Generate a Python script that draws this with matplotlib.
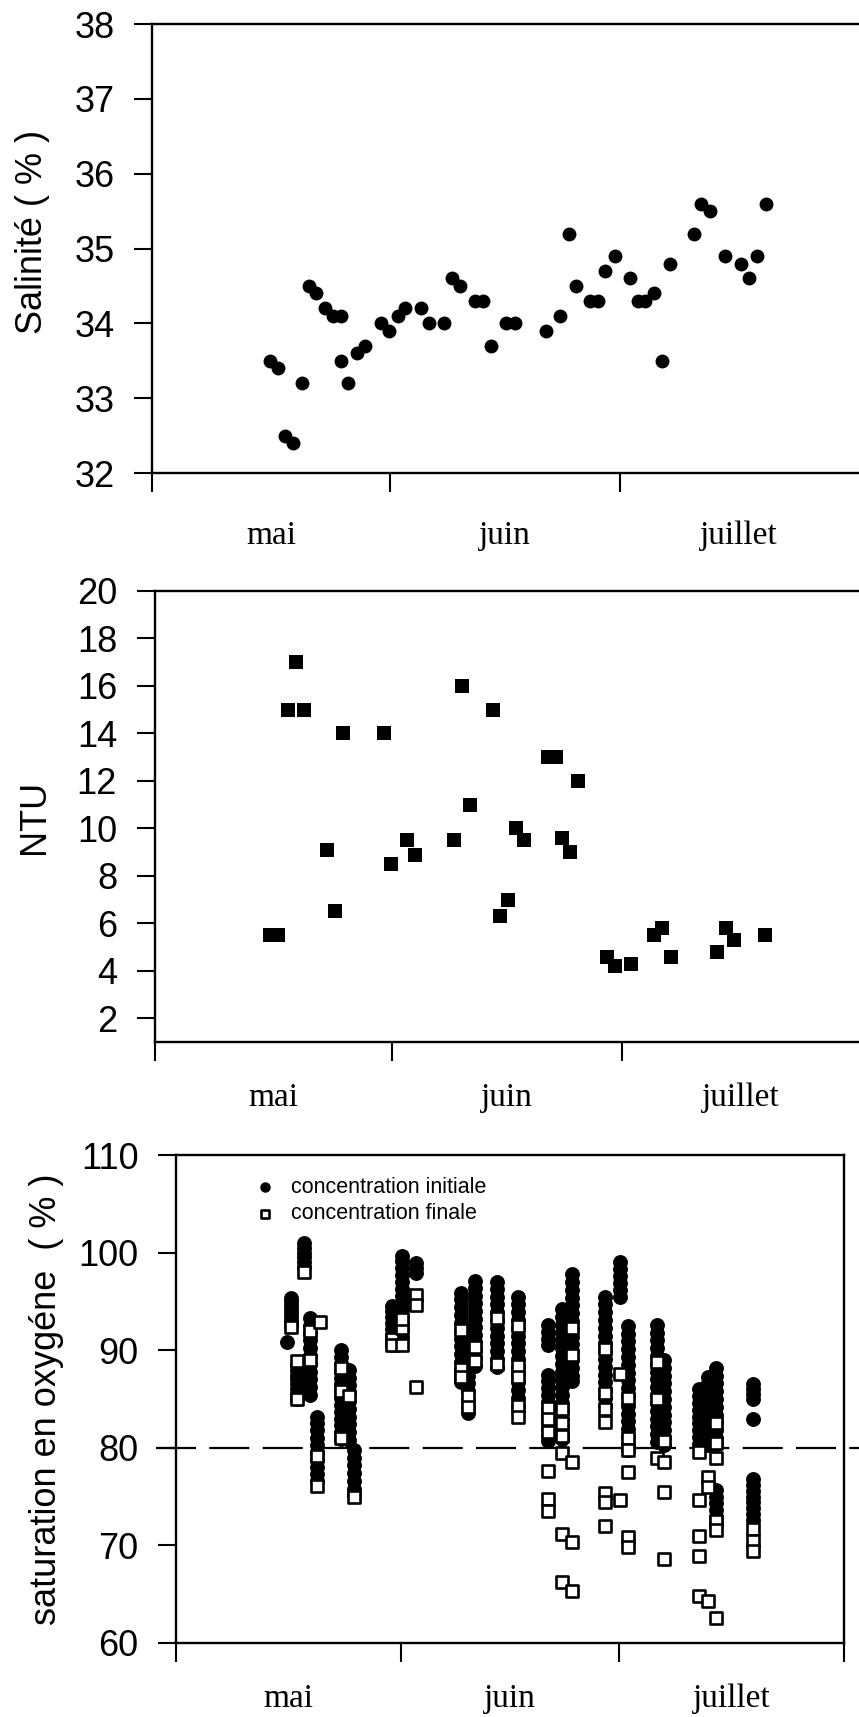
import matplotlib
matplotlib.use("Agg")
import matplotlib.pyplot as plt

plt.rcParams['font.family'] = ['Liberation Sans', 'DejaVu Sans']

# days counted from 1 May
month_ticks = [0, 31, 61, 92]
month_mids = [15.5, 46, 76.5]
month_names = ["mai", "juin", "juillet"]

# salinity
sal_days = [15.4, 16.4, 17.3, 18.4, 19.5, 20.5, 21.4, 22.6, 23.6, 24.6,
            24.6, 25.6, 26.7, 27.7, 29.9, 30.9, 32.1, 33.0, 35.0, 36.1,
            38.1, 39.1, 40.1, 42.1, 43.1, 44.2, 46.2, 47.3, 51.3, 53.2,
            54.4, 55.2, 57.1, 58.1, 59.1, 60.3, 62.3, 63.3, 64.3, 65.4,
            66.4, 67.5, 70.6, 71.6, 72.7, 74.7, 76.7, 77.8, 78.8, 80.0]
sal_vals = [33.5, 33.4, 32.5, 32.4, 33.2, 34.5, 34.4, 34.2, 34.1, 34.1,
            33.5, 33.2, 33.6, 33.7, 34.0, 33.9, 34.1, 34.2, 34.2, 34.0,
            34.0, 34.6, 34.5, 34.3, 34.3, 33.7, 34.0, 34.0, 33.9, 34.1,
            35.2, 34.5, 34.3, 34.3, 34.7, 34.9, 34.6, 34.3, 34.3, 34.4,
            33.5, 34.8, 35.2, 35.6, 35.5, 34.9, 34.8, 34.6, 34.9, 35.6]

# turbidity
ntu_days = [15.0, 16.1, 17.4, 18.4, 19.5, 22.5, 23.5, 24.6, 29.9, 30.9,
            32.9, 34.0, 39.0, 40.1, 41.2, 44.2, 45.1, 46.1, 47.2, 48.2,
            51.3, 52.3, 53.2, 54.2, 55.2, 59.0, 60.0, 62.1, 65.1, 66.2,
            67.3, 73.4, 74.5, 75.5, 79.6]
ntu_vals = [5.5, 5.5, 15, 17, 15, 9.1, 6.5, 14, 14, 8.5,
            9.5, 8.9, 9.5, 16, 11, 15, 6.3, 7.0, 10, 9.5,
            13, 13, 9.6, 9.0, 12, 4.6, 4.2, 4.3, 5.5, 5.8,
            4.6, 4.8, 5.8, 5.3, 5.5]

# oxygen saturation, one list per sampling column
o2_days = [15.3, 15.9, 16.6, 17.6, 18.5, 19.4, 19.9, 22.7, 23.8, 24.5,
           29.7, 31.1, 33.1, 39.3, 40.2, 41.2, 44.2, 47.1,
           51.2, 53.2, 54.6, 59.1, 61.2, 62.2, 66.2, 67.2,
           72.1, 73.3, 74.4, 79.5]
o2_initial = [
    [90.8],
    [95.3, 95.0, 94.6, 94.2, 93.8, 93.4, 93.0, 92.6],
    [88.5, 88.0, 87.5, 87.0, 86.5, 86.0, 85.5, 85.0],
    [101.0, 100.5, 100.0, 99.5, 99.0, 98.5],
    [93.3, 92.5, 91.8, 91.0, 90.2, 89.4, 88.6, 87.8, 87.0, 86.2, 85.4],
    [83.2, 82.5, 81.8, 81.0, 80.3, 79.5, 78.8, 78.0, 77.3, 76.6],
    [],
    [90.0, 89.3, 88.6, 87.9, 87.2, 86.5, 85.8, 85.1, 84.4, 83.7, 83.0, 82.3, 81.6, 80.9],
    [88.0, 87.2, 86.4, 85.6, 84.8, 84.0, 83.2, 82.4, 81.6, 80.8],
    [79.8, 79.0, 78.2, 77.4, 76.6, 75.8, 75.2],
    [94.5, 94.0, 93.4, 92.8, 92.2, 91.6, 91.0, 90.5],
    [99.7, 99.1, 98.4, 97.7, 97.0, 96.3, 95.6, 94.9, 94.2, 93.5, 92.8, 92.1, 91.4],
    [98.9, 98.4, 97.9],
    [95.9, 95.2, 94.4, 93.6, 92.8, 92.0, 91.2, 90.4, 89.6, 88.8, 88.0, 87.2, 86.7],
    [89.7, 89.0, 88.2, 87.4, 86.6, 85.8, 85.0, 84.2, 83.6],
    [97.1, 96.4, 95.6, 94.8, 94.0, 93.2, 92.4, 91.6, 90.8, 90.0, 89.2, 88.4],
    [97.0, 96.3, 95.5, 94.7, 93.9, 93.1, 92.3, 91.5, 90.7, 89.9, 89.1, 88.3],
    [95.5, 94.7, 93.9, 93.1, 92.3, 91.5, 90.7, 89.9, 89.1, 88.3, 87.5, 86.7, 85.9, 85.1, 84.3],
    [92.6, 91.9, 91.2, 90.5, 87.5, 86.8, 86.1, 85.4, 84.7, 84.0, 83.3, 82.6, 81.9, 81.2, 80.7],
    [94.2, 93.4, 92.6, 91.8, 91.0, 90.2, 89.4, 88.6, 87.8, 87.0, 86.2, 85.4, 84.6, 83.8,
     83.0, 82.2, 81.4, 80.9],
    [97.8, 97.0, 96.2, 95.4, 94.6, 93.8, 93.0, 92.2, 91.4, 90.6, 89.8, 89.0, 88.2, 87.4, 86.8],
    [95.5, 94.7, 93.9, 93.1, 92.3, 91.5, 90.7, 89.9, 89.1, 88.3, 87.5, 86.7, 85.9, 85.1, 84.3],
    [99.0, 98.3, 97.6, 96.9, 96.2, 95.5],
    [92.5, 91.7, 90.9, 90.1, 89.3, 88.5, 87.7, 86.9, 86.1, 85.3, 84.3, 83.5, 82.7, 81.9,
     81.1, 80.3, 79.8],
    [92.6, 91.8, 91.0, 90.2, 89.4, 88.6, 87.8, 87.0, 86.2, 85.4, 84.6, 83.8, 83.0, 82.2,
     81.4, 80.6],
    [89.0, 88.2, 87.4, 86.6, 85.8, 85.0, 84.2, 83.4, 82.6, 81.8, 81.0, 80.3],
    [86.0, 85.3, 84.6, 83.9, 83.2, 82.5, 81.8, 81.1, 80.4],
    [87.3, 86.6, 85.9, 85.2, 84.5, 83.8, 83.1, 82.4, 81.7, 81.0, 80.3],
    [88.2, 87.4, 86.6, 85.8, 85.0, 84.2, 83.4, 82.6, 81.8, 81.0, 80.4,
     75.7, 75.0, 74.3, 73.6, 72.9, 72.3],
    [86.5, 86.0, 85.5, 85.0, 83.0, 76.8, 76.2, 75.6, 75.0, 74.4, 73.8, 73.2, 72.6],
]
o2_final = [
    [],
    [92.4],
    [85.0, 88.9],
    [98.0],
    [92.0, 89.0],
    [79.2, 76.1],
    [92.9],
    [88.2, 85.8, 81.0],
    [85.3],
    [75.0],
    [91.2, 90.5],
    [90.5, 92.3, 93.2],
    [95.7, 94.6, 86.2],
    [92.1, 88.1, 87.3],
    [85.3, 84.2],
    [90.3, 88.9],
    [93.3, 88.6],
    [92.5, 88.4, 87.3, 84.3, 83.2],
    [84.1, 83.0, 81.6, 77.6, 74.8, 73.5],
    [84.0, 82.5, 81.2, 79.5, 71.2, 66.2],
    [92.3, 89.5, 78.5, 70.3, 65.3],
    [90.1, 85.6, 84.0, 82.6, 75.4, 74.4, 72.0],
    [87.6, 74.7],
    [85.1, 81.0, 79.8, 77.5, 70.9, 69.8],
    [88.8, 85.0, 79.0],
    [80.7, 78.5, 75.5, 68.6],
    [79.6, 74.7, 71.0, 68.9, 64.8],
    [77.0, 76.0, 64.3],
    [82.5, 80.5, 79.0, 72.5, 71.6, 62.6],
    [71.7, 70.5, 69.4],
]

ini_x, ini_y, fin_x, fin_y = [], [], [], []
for d, ini, fin in zip(o2_days, o2_initial, o2_final):
    ini_x += [d] * len(ini)
    ini_y += ini
    fin_x += [d] * len(fin)
    fin_y += fin


def style_axes(ax, ylabel, ticks, label_pad, right_spine=False):
    for s in ax.spines.values():
        s.set_linewidth(1.7)
    ax.spines['right'].set_visible(right_spine)
    ax.set_xlim(0, 92)
    ax.set_xticks(ticks)
    ax.set_xticklabels([])
    ax.set_xticks(month_mids, minor=True)
    ax.set_xticklabels(month_names, minor=True, fontfamily='Liberation Serif', fontsize=24)
    ax.tick_params(axis='x', which='major', direction='out', length=14, width=1.5)
    ax.tick_params(axis='x', which='minor', length=0, pad=label_pad)
    ax.tick_params(axis='y', direction='out', length=13, width=1.5, pad=14, labelsize=26)
    ax.set_ylabel(ylabel, fontsize=26)


fig = plt.figure(figsize=(8.59, 17.17), dpi=100)

# salinity panel
ax1 = fig.add_axes([0.1769, 0.7245, 0.8219, 0.2615])
ax1.scatter(sal_days, sal_vals, s=100, c='black', marker='o', linewidths=0)
ax1.set_ylim(32, 38)
ax1.set_yticks(range(32, 39))
style_axes(ax1, 'Salinité ( % )', month_ticks[:3], 34)
ax1.yaxis.set_label_coords(-0.145, 0.538)

# turbidity panel
ax2 = fig.add_axes([0.1799, 0.3931, 0.8213, 0.2627])
ax2.scatter(ntu_days, ntu_vals, s=95, c='black', marker='s', linewidths=0)
ax2.set_ylim(1, 20)
ax2.set_yticks(range(2, 21, 2))
style_axes(ax2, 'NTU', month_ticks[:3], 29)
ax2.yaxis.set_label_coords(-0.145, 0.5)

# oxygen panel
ax3 = fig.add_axes([0.2049, 0.0431, 0.7776, 0.2842])
ax3.axhline(80, xmin=-0.03, xmax=1.03, color='black', lw=1.6,
            dashes=(18, 6), clip_on=False, zorder=1)
ax3.scatter(ini_x, ini_y, s=115, c='black', marker='o', linewidths=0, zorder=2,
            label='concentration initiale')
ax3.scatter(fin_x, fin_y, s=70, facecolors='white', edgecolors='black',
            marker='s', linewidths=1.9, zorder=3, label='concentration finale')
ax3.set_ylim(60, 110)
ax3.set_yticks(range(60, 111, 10))
style_axes(ax3, 'saturation en oxygéne  ( % )', month_ticks, 29, right_spine=True)
ax3.yaxis.set_label_coords(-0.168, 0.5)
ax3.legend(loc='upper left', bbox_to_anchor=(0.085, 0.995), frameon=False,
           fontsize=15.5, handletextpad=0.6, markerscale=0.7, labelspacing=0.25,
           handlelength=1.2)

fig.savefig('out.png', dpi=100)
